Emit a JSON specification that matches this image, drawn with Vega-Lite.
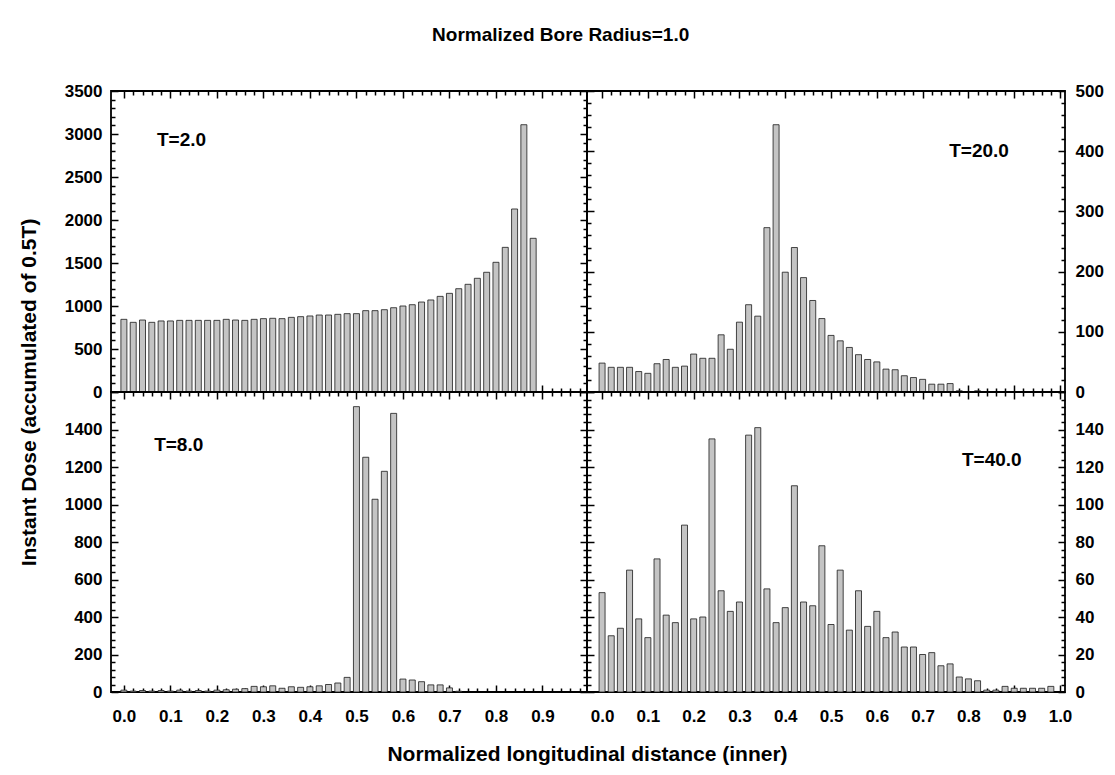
{
"$schema": "https://vega.github.io/schema/vega-lite/v6.json",
"autosize": {"type": "none"},
"padding": {"left": 111, "top": 91, "right": 1004, "bottom": 684},
"background": "white",
"title": {"text": "Normalized Bore Radius=1.0", "fontSize": 19, "font": "Liberation Sans", "fontWeight": "bold", "color": "#000", "anchor": "middle", "offset": 36},
"config": {
  "font": "Liberation Sans",
  "view": {"stroke": "#000", "strokeWidth": 1.8},
  "axis": {"labelFont": "Liberation Sans", "labelFontWeight": "bold", "labelFontSize": 17, "labelColor": "#000", "tickColor": "#000", "tickWidth": 1.5, "domain": false, "grid": false, "labelOverlap": false, "labelFlush": false, "titleFont": "Liberation Sans", "titleFontWeight": "bold", "titleFontSize": 21, "titleColor": "#000"}
},
"datasets": {
  "t2": [{"x":0,"dose":845},{"x":0.02,"dose":810},{"x":0.04,"dose":837},{"x":0.06,"dose":810},{"x":0.08,"dose":826},{"x":0.1,"dose":826},{"x":0.12,"dose":833},{"x":0.14,"dose":833},{"x":0.16,"dose":833},{"x":0.18,"dose":833},{"x":0.2,"dose":833},{"x":0.22,"dose":845},{"x":0.24,"dose":837},{"x":0.26,"dose":833},{"x":0.28,"dose":845},{"x":0.3,"dose":853},{"x":0.32,"dose":857},{"x":0.34,"dose":853},{"x":0.36,"dose":868},{"x":0.38,"dose":876},{"x":0.4,"dose":884},{"x":0.42,"dose":895},{"x":0.44,"dose":895},{"x":0.46,"dose":903},{"x":0.48,"dose":911},{"x":0.5,"dose":911},{"x":0.52,"dose":946},{"x":0.54,"dose":946},{"x":0.56,"dose":957},{"x":0.58,"dose":980},{"x":0.6,"dose":1000},{"x":0.62,"dose":1015},{"x":0.64,"dose":1046},{"x":0.66,"dose":1070},{"x":0.68,"dose":1112},{"x":0.7,"dose":1147},{"x":0.72,"dose":1201},{"x":0.74,"dose":1252},{"x":0.76,"dose":1322},{"x":0.78,"dose":1392},{"x":0.8,"dose":1508},{"x":0.82,"dose":1682},{"x":0.84,"dose":2128},{"x":0.86,"dose":3108},{"x":0.88,"dose":1787}],
  "t20": [{"x":0,"dose":48},{"x":0.02,"dose":41},{"x":0.04,"dose":41},{"x":0.06,"dose":41},{"x":0.08,"dose":34},{"x":0.1,"dose":31},{"x":0.12,"dose":47},{"x":0.14,"dose":54},{"x":0.16,"dose":41},{"x":0.18,"dose":43},{"x":0.2,"dose":63},{"x":0.22,"dose":56},{"x":0.24,"dose":56},{"x":0.26,"dose":95},{"x":0.28,"dose":71},{"x":0.3,"dose":116},{"x":0.32,"dose":145},{"x":0.34,"dose":126},{"x":0.36,"dose":273},{"x":0.38,"dose":444},{"x":0.4,"dose":199},{"x":0.42,"dose":240},{"x":0.44,"dose":190},{"x":0.46,"dose":152},{"x":0.48,"dose":122},{"x":0.5,"dose":94},{"x":0.52,"dose":85},{"x":0.54,"dose":74},{"x":0.56,"dose":62},{"x":0.58,"dose":54},{"x":0.6,"dose":50},{"x":0.62,"dose":38},{"x":0.64,"dose":37},{"x":0.66,"dose":27},{"x":0.68,"dose":24},{"x":0.7,"dose":21},{"x":0.72,"dose":13},{"x":0.74,"dose":13},{"x":0.76,"dose":14},{"x":0.78,"dose":2},{"x":0.82,"dose":2}],
  "t8": [{"x":0,"dose":10},{"x":0.02,"dose":5},{"x":0.04,"dose":8},{"x":0.06,"dose":5},{"x":0.08,"dose":8},{"x":0.1,"dose":5},{"x":0.12,"dose":10},{"x":0.14,"dose":5},{"x":0.16,"dose":8},{"x":0.18,"dose":5},{"x":0.2,"dose":10},{"x":0.22,"dose":12},{"x":0.24,"dose":15},{"x":0.26,"dose":18},{"x":0.28,"dose":30},{"x":0.3,"dose":28},{"x":0.32,"dose":33},{"x":0.34,"dose":20},{"x":0.36,"dose":28},{"x":0.38,"dose":25},{"x":0.4,"dose":28},{"x":0.42,"dose":33},{"x":0.44,"dose":40},{"x":0.46,"dose":48},{"x":0.48,"dose":78},{"x":0.5,"dose":1522},{"x":0.52,"dose":1252},{"x":0.54,"dose":1028},{"x":0.56,"dose":1177},{"x":0.58,"dose":1486},{"x":0.6,"dose":69},{"x":0.62,"dose":64},{"x":0.64,"dose":55},{"x":0.66,"dose":38},{"x":0.68,"dose":38},{"x":0.7,"dose":22},{"x":0.72,"dose":4}],
  "t40": [{"x":0,"dose":53},{"x":0.02,"dose":30},{"x":0.04,"dose":34},{"x":0.06,"dose":65},{"x":0.08,"dose":39},{"x":0.1,"dose":29},{"x":0.12,"dose":71},{"x":0.14,"dose":41},{"x":0.16,"dose":37},{"x":0.18,"dose":89},{"x":0.2,"dose":39},{"x":0.22,"dose":40},{"x":0.24,"dose":135},{"x":0.26,"dose":54},{"x":0.28,"dose":43},{"x":0.3,"dose":48},{"x":0.32,"dose":137},{"x":0.34,"dose":141},{"x":0.36,"dose":55},{"x":0.38,"dose":37},{"x":0.4,"dose":45},{"x":0.42,"dose":110},{"x":0.44,"dose":48},{"x":0.46,"dose":46},{"x":0.48,"dose":78},{"x":0.5,"dose":36},{"x":0.52,"dose":65},{"x":0.54,"dose":33},{"x":0.56,"dose":54},{"x":0.58,"dose":35},{"x":0.6,"dose":43},{"x":0.62,"dose":29},{"x":0.64,"dose":32},{"x":0.66,"dose":24},{"x":0.68,"dose":24},{"x":0.7,"dose":20},{"x":0.72,"dose":21},{"x":0.74,"dose":14},{"x":0.76,"dose":15},{"x":0.78,"dose":8},{"x":0.8,"dose":7},{"x":0.82,"dose":6},{"x":0.84,"dose":1},{"x":0.86,"dose":1},{"x":0.88,"dose":3},{"x":0.9,"dose":2},{"x":0.92,"dose":2},{"x":0.94,"dose":2},{"x":0.96,"dose":2},{"x":0.98,"dose":3}]
},
"bounds": "flush",
"spacing": 0,
"columns": 2,
"concat": [
  {"width": 476, "height": 301,
   "resolve": {"axis": {"x": "independent", "y": "independent"}},
   "layer": [
    {"data": {"name": "t2"}, "mark": {"type": "bar", "orient": "vertical", "size": 6, "fill": "#c4c4c4", "stroke": "#1a1a1a", "strokeWidth": 0.8},
     "encoding": {
      "x": {"field": "x", "type": "quantitative", "scale": {"domain": [-0.017, 0.985], "nice": false, "zero": false},
            "axis": {"orient": "bottom", "values": [0,0.02,0.04,0.06,0.08,0.1,0.12,0.14,0.16,0.18,0.2,0.22,0.24,0.26,0.28,0.3,0.32,0.34,0.36,0.38,0.4,0.42,0.44,0.46,0.48,0.5,0.52,0.54,0.56,0.58,0.6,0.62,0.64,0.66,0.68,0.7,0.72,0.74,0.76,0.78,0.8,0.82,0.84,0.86,0.88,0.9,0.92,0.94,0.96,0.98], "tickSize": {"condition": {"test": "abs(datum.value*10-round(datum.value*10))<0.001", "value": -7}, "value": -4}, "labels": false, "title": null}},
      "y": {"field": "dose", "type": "quantitative", "scale": {"domain": [0, 3500], "nice": false},
            "axis": {"orient": "left", "values": [0,100,200,300,400,500,600,700,800,900,1000,1100,1200,1300,1400,1500,1600,1700,1800,1900,2000,2100,2200,2300,2400,2500,2600,2700,2800,2900,3000,3100,3200,3300,3400,3500], "tickSize": {"condition": {"test": "datum.value % 500 == 0", "value": -7}, "value": -4}, "labelExpr": "datum.value % 500 == 0 ? format(datum.value, 'd') : ''", "labelPadding": 16, "title": "Instant Dose (accumulated of 0.5T)", "titleX": -82, "titleY": 301, "titleAngle": 270, "titleAlign": "center", "titleBaseline": "middle"}}
     }},
    {"data": {"name": "t2"}, "mark": {"type": "bar", "orient": "vertical", "size": 6, "opacity": 0},
     "encoding": {
      "x": {"field": "x", "type": "quantitative", "scale": {"domain": [-0.017, 0.985], "nice": false, "zero": false},
            "axis": {"orient": "top", "values": [0,0.02,0.04,0.06,0.08,0.1,0.12,0.14,0.16,0.18,0.2,0.22,0.24,0.26,0.28,0.3,0.32,0.34,0.36,0.38,0.4,0.42,0.44,0.46,0.48,0.5,0.52,0.54,0.56,0.58,0.6,0.62,0.64,0.66,0.68,0.7,0.72,0.74,0.76,0.78,0.8,0.82,0.84,0.86,0.88,0.9,0.92,0.94,0.96,0.98], "tickSize": {"condition": {"test": "abs(datum.value*10-round(datum.value*10))<0.001", "value": -7}, "value": -4}, "labels": false, "title": null}},
      "y": {"field": "dose", "type": "quantitative", "scale": {"domain": [0, 3500], "nice": false},
            "axis": {"orient": "right", "values": [0,100,200,300,400,500,600,700,800,900,1000,1100,1200,1300,1400,1500,1600,1700,1800,1900,2000,2100,2200,2300,2400,2500,2600,2700,2800,2900,3000,3100,3200,3300,3400,3500], "tickSize": {"condition": {"test": "datum.value % 500 == 0", "value": -7}, "value": -4}, "labels": false, "title": null}}
     }},
    {"data": {"values": [{"label": "T=2.0", "x": 0.071, "dose": 2930}]}, "mark": {"type": "text", "align": "left", "baseline": "middle", "font": "Liberation Sans", "fontWeight": "bold", "fontSize": 19, "color": "#000"},
     "encoding": {"x": {"field": "x", "type": "quantitative", "axis": null}, "y": {"field": "dose", "type": "quantitative", "axis": null}, "text": {"field": "label"}}}
   ]},
  {"width": 478, "height": 301,
   "resolve": {"axis": {"x": "independent", "y": "independent"}},
   "layer": [
    {"data": {"name": "t20"}, "mark": {"type": "bar", "orient": "vertical", "size": 6, "fill": "#c4c4c4", "stroke": "#1a1a1a", "strokeWidth": 0.8},
     "encoding": {
      "x": {"field": "x", "type": "quantitative", "scale": {"domain": [-0.022, 1.0], "nice": false, "zero": false},
            "axis": {"orient": "bottom", "values": [0,0.02,0.04,0.06,0.08,0.1,0.12,0.14,0.16,0.18,0.2,0.22,0.24,0.26,0.28,0.3,0.32,0.34,0.36,0.38,0.4,0.42,0.44,0.46,0.48,0.5,0.52,0.54,0.56,0.58,0.6,0.62,0.64,0.66,0.68,0.7,0.72,0.74,0.76,0.78,0.8,0.82,0.84,0.86,0.88,0.9,0.92,0.94,0.96,0.98,1], "tickSize": {"condition": {"test": "abs(datum.value*10-round(datum.value*10))<0.001", "value": -7}, "value": -4}, "labels": false, "title": null}},
      "y": {"field": "dose", "type": "quantitative", "scale": {"domain": [0, 500], "nice": false},
            "axis": {"orient": "right", "values": [0,20,40,60,80,100,120,140,160,180,200,220,240,260,280,300,320,340,360,380,400,420,440,460,480,500], "tickSize": {"condition": {"test": "datum.value % 100 == 0", "value": -7}, "value": -4}, "labelExpr": "datum.value % 100 == 0 ? format(datum.value, 'd') : ''", "labelPadding": 17, "title": null}}
     }},
    {"data": {"name": "t20"}, "mark": {"type": "bar", "orient": "vertical", "size": 6, "opacity": 0},
     "encoding": {
      "x": {"field": "x", "type": "quantitative", "scale": {"domain": [-0.022, 1.0], "nice": false, "zero": false},
            "axis": {"orient": "top", "values": [0,0.02,0.04,0.06,0.08,0.1,0.12,0.14,0.16,0.18,0.2,0.22,0.24,0.26,0.28,0.3,0.32,0.34,0.36,0.38,0.4,0.42,0.44,0.46,0.48,0.5,0.52,0.54,0.56,0.58,0.6,0.62,0.64,0.66,0.68,0.7,0.72,0.74,0.76,0.78,0.8,0.82,0.84,0.86,0.88,0.9,0.92,0.94,0.96,0.98,1], "tickSize": {"condition": {"test": "abs(datum.value*10-round(datum.value*10))<0.001", "value": -7}, "value": -4}, "labels": false, "title": null}},
      "y": {"field": "dose", "type": "quantitative", "scale": {"domain": [0, 500], "nice": false},
            "axis": {"orient": "left", "values": [0,20,40,60,80,100,120,140,160,180,200,220,240,260,280,300,320,340,360,380,400,420,440,460,480,500], "tickSize": {"condition": {"test": "datum.value % 100 == 0", "value": -7}, "value": -4}, "labels": false, "title": null}}
     }},
    {"data": {"values": [{"label": "T=20.0", "x": 0.758, "dose": 400}]}, "mark": {"type": "text", "align": "left", "baseline": "middle", "font": "Liberation Sans", "fontWeight": "bold", "fontSize": 19, "color": "#000"},
     "encoding": {"x": {"field": "x", "type": "quantitative", "axis": null}, "y": {"field": "dose", "type": "quantitative", "axis": null}, "text": {"field": "label"}}}
   ]},
  {"width": 476, "height": 300,
   "resolve": {"axis": {"x": "independent", "y": "independent"}},
   "layer": [
    {"data": {"name": "t8"}, "mark": {"type": "bar", "orient": "vertical", "size": 6, "fill": "#c4c4c4", "stroke": "#1a1a1a", "strokeWidth": 0.8},
     "encoding": {
      "x": {"field": "x", "type": "quantitative", "scale": {"domain": [-0.017, 0.985], "nice": false, "zero": false},
            "axis": {"orient": "bottom", "values": [0,0.02,0.04,0.06,0.08,0.1,0.12,0.14,0.16,0.18,0.2,0.22,0.24,0.26,0.28,0.3,0.32,0.34,0.36,0.38,0.4,0.42,0.44,0.46,0.48,0.5,0.52,0.54,0.56,0.58,0.6,0.62,0.64,0.66,0.68,0.7,0.72,0.74,0.76,0.78,0.8,0.82,0.84,0.86,0.88,0.9,0.92,0.94,0.96,0.98], "tickSize": {"condition": {"test": "abs(datum.value*10-round(datum.value*10))<0.001", "value": -7}, "value": -4}, "labelExpr": "abs(datum.value*10-round(datum.value*10))<0.001 ? format(datum.value, '.1f') : ''", "labelPadding": 23, "title": "Normalized longitudinal distance (inner)", "titleX": 476, "titleY": 62, "titleAlign": "center", "titleBaseline": "middle"}},
      "y": {"field": "dose", "type": "quantitative", "scale": {"domain": [0, 1600], "nice": false},
            "axis": {"orient": "left", "values": [0,40,80,120,160,200,240,280,320,360,400,440,480,520,560,600,640,680,720,760,800,840,880,920,960,1000,1040,1080,1120,1160,1200,1240,1280,1320,1360,1400,1440,1480,1520,1560,1600], "tickSize": {"condition": {"test": "datum.value % 200 == 0", "value": -7}, "value": -4}, "labelExpr": "datum.value % 200 == 0 && datum.value < 1600 ? format(datum.value, 'd') : ''", "labelPadding": 16, "title": null}}
     }},
    {"data": {"name": "t8"}, "mark": {"type": "bar", "orient": "vertical", "size": 6, "opacity": 0},
     "encoding": {
      "x": {"field": "x", "type": "quantitative", "scale": {"domain": [-0.017, 0.985], "nice": false, "zero": false},
            "axis": {"orient": "top", "values": [0,0.02,0.04,0.06,0.08,0.1,0.12,0.14,0.16,0.18,0.2,0.22,0.24,0.26,0.28,0.3,0.32,0.34,0.36,0.38,0.4,0.42,0.44,0.46,0.48,0.5,0.52,0.54,0.56,0.58,0.6,0.62,0.64,0.66,0.68,0.7,0.72,0.74,0.76,0.78,0.8,0.82,0.84,0.86,0.88,0.9,0.92,0.94,0.96,0.98], "tickSize": {"condition": {"test": "abs(datum.value*10-round(datum.value*10))<0.001", "value": -7}, "value": -4}, "labels": false, "title": null}},
      "y": {"field": "dose", "type": "quantitative", "scale": {"domain": [0, 1600], "nice": false},
            "axis": {"orient": "right", "values": [0,40,80,120,160,200,240,280,320,360,400,440,480,520,560,600,640,680,720,760,800,840,880,920,960,1000,1040,1080,1120,1160,1200,1240,1280,1320,1360,1400,1440,1480,1520,1560,1600], "tickSize": {"condition": {"test": "datum.value % 200 == 0", "value": -7}, "value": -4}, "labels": false, "title": null}}
     }},
    {"data": {"values": [{"label": "T=8.0", "x": 0.065, "dose": 1320}]}, "mark": {"type": "text", "align": "left", "baseline": "middle", "font": "Liberation Sans", "fontWeight": "bold", "fontSize": 19, "color": "#000"},
     "encoding": {"x": {"field": "x", "type": "quantitative", "axis": null}, "y": {"field": "dose", "type": "quantitative", "axis": null}, "text": {"field": "label"}}}
   ]},
  {"width": 478, "height": 300,
   "resolve": {"axis": {"x": "independent", "y": "independent"}},
   "layer": [
    {"data": {"name": "t40"}, "mark": {"type": "bar", "orient": "vertical", "size": 6, "fill": "#c4c4c4", "stroke": "#1a1a1a", "strokeWidth": 0.8},
     "encoding": {
      "x": {"field": "x", "type": "quantitative", "scale": {"domain": [-0.022, 1.0], "nice": false, "zero": false},
            "axis": {"orient": "bottom", "values": [0,0.02,0.04,0.06,0.08,0.1,0.12,0.14,0.16,0.18,0.2,0.22,0.24,0.26,0.28,0.3,0.32,0.34,0.36,0.38,0.4,0.42,0.44,0.46,0.48,0.5,0.52,0.54,0.56,0.58,0.6,0.62,0.64,0.66,0.68,0.7,0.72,0.74,0.76,0.78,0.8,0.82,0.84,0.86,0.88,0.9,0.92,0.94,0.96,0.98,1], "tickSize": {"condition": {"test": "abs(datum.value*10-round(datum.value*10))<0.001", "value": -7}, "value": -4}, "labelExpr": "abs(datum.value*10-round(datum.value*10))<0.001 ? format(datum.value, '.1f') : ''", "labelPadding": 23, "title": null}},
      "y": {"field": "dose", "type": "quantitative", "scale": {"domain": [0, 160], "nice": false},
            "axis": {"orient": "right", "values": [0,4,8,12,16,20,24,28,32,36,40,44,48,52,56,60,64,68,72,76,80,84,88,92,96,100,104,108,112,116,120,124,128,132,136,140,144,148,152,156,160], "tickSize": {"condition": {"test": "datum.value % 20 == 0", "value": -7}, "value": -4}, "labelExpr": "datum.value % 20 == 0 && datum.value < 160 ? format(datum.value, 'd') : ''", "labelPadding": 17, "title": null}}
     }},
    {"data": {"name": "t40"}, "mark": {"type": "bar", "orient": "vertical", "size": 6, "opacity": 0},
     "encoding": {
      "x": {"field": "x", "type": "quantitative", "scale": {"domain": [-0.022, 1.0], "nice": false, "zero": false},
            "axis": {"orient": "top", "values": [0,0.02,0.04,0.06,0.08,0.1,0.12,0.14,0.16,0.18,0.2,0.22,0.24,0.26,0.28,0.3,0.32,0.34,0.36,0.38,0.4,0.42,0.44,0.46,0.48,0.5,0.52,0.54,0.56,0.58,0.6,0.62,0.64,0.66,0.68,0.7,0.72,0.74,0.76,0.78,0.8,0.82,0.84,0.86,0.88,0.9,0.92,0.94,0.96,0.98,1], "tickSize": {"condition": {"test": "abs(datum.value*10-round(datum.value*10))<0.001", "value": -7}, "value": -4}, "labels": false, "title": null}},
      "y": {"field": "dose", "type": "quantitative", "scale": {"domain": [0, 160], "nice": false},
            "axis": {"orient": "left", "values": [0,4,8,12,16,20,24,28,32,36,40,44,48,52,56,60,64,68,72,76,80,84,88,92,96,100,104,108,112,116,120,124,128,132,136,140,144,148,152,156,160], "tickSize": {"condition": {"test": "datum.value % 20 == 0", "value": -7}, "value": -4}, "labels": false, "title": null}}
     }},
    {"data": {"values": [{"label": "T=40.0", "x": 0.786, "dose": 124}]}, "mark": {"type": "text", "align": "left", "baseline": "middle", "font": "Liberation Sans", "fontWeight": "bold", "fontSize": 19, "color": "#000"},
     "encoding": {"x": {"field": "x", "type": "quantitative", "axis": null}, "y": {"field": "dose", "type": "quantitative", "axis": null}, "text": {"field": "label"}}}
   ]}
]
}
